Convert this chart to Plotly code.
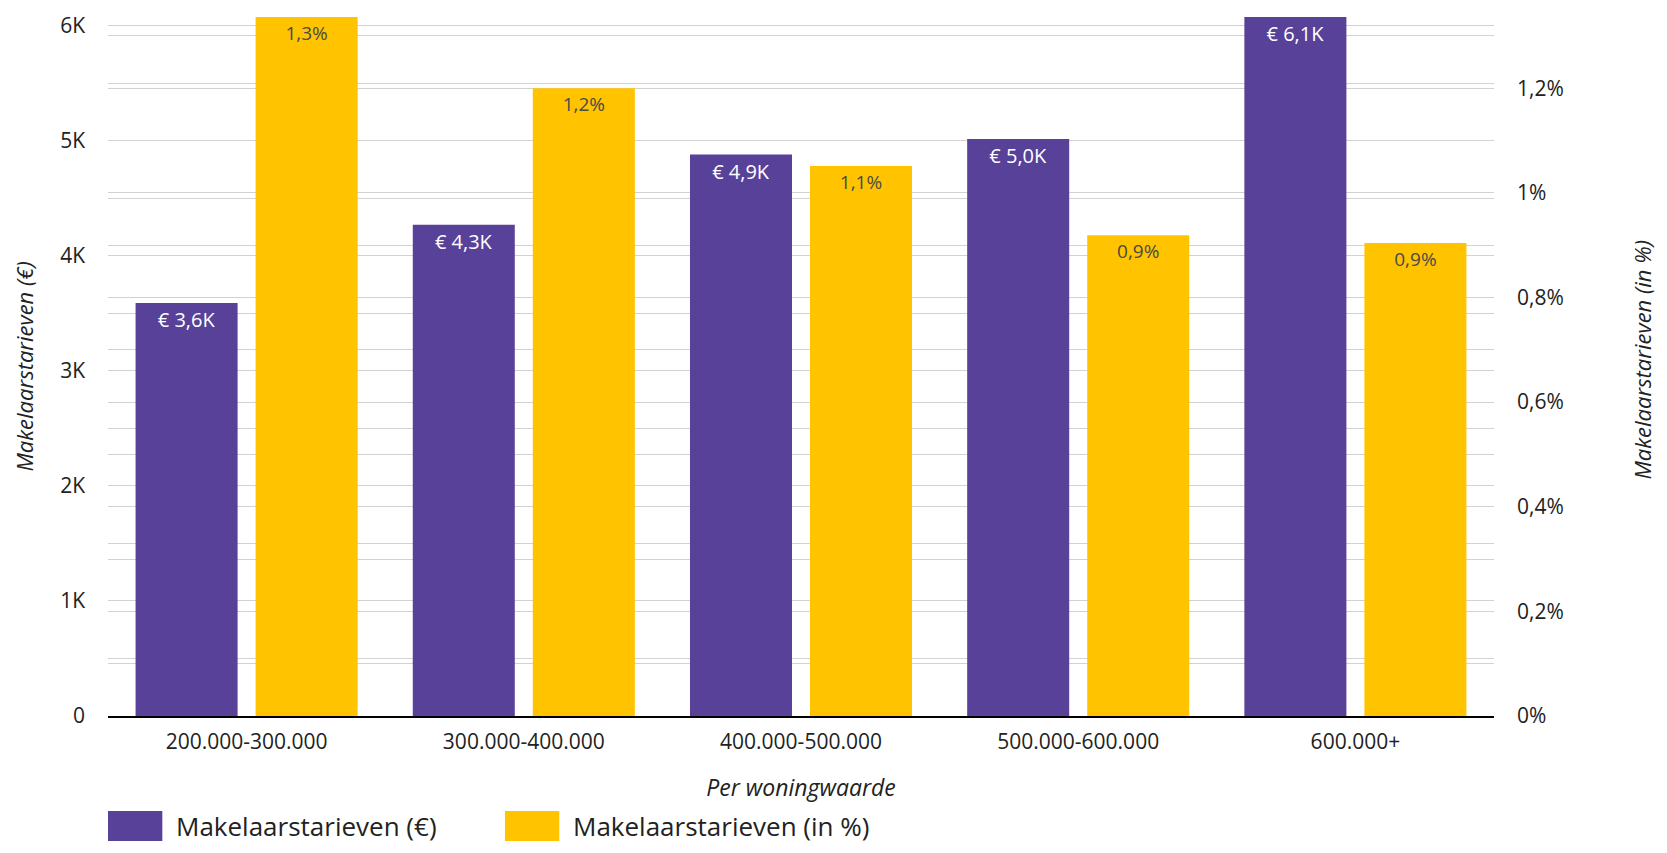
import plotly.graph_objects as go

categories = ["200.000-300.000", "300.000-400.000", "400.000-500.000", "500.000-600.000", "600.000+"]
tarief_euro = [3590, 4270, 4880, 5015, 6080]
tarief_pct = [1.336, 1.200, 1.051, 0.919, 0.904]

left_tickvals = [0, 500, 1000, 1500, 2000, 2500, 3000, 3500, 4000, 4500, 5000, 5500, 6000]
left_ticktext = ["0", "", "1K", "", "2K", "", "3K", "", "4K", "", "5K", "", "6K"]
right_tickvals = [0, 0.1, 0.2, 0.3, 0.4, 0.5, 0.6, 0.7, 0.8, 0.9, 1.0, 1.1, 1.2, 1.3]
right_ticktext = ["0%", "", "0,2%", "", "0,4%", "", "0,6%", "", "0,8%", "", "1%", "", "1,2%", ""]

PURPLE = "#584199"
YELLOW = "#FFC300"
FONT = "Open Sans"
TXT = "#222222"

euro_text = ["€ " + f"{v/1000:.1f}".replace(".", ",") + "K" for v in tarief_euro]
pct_text = [f"{v:.1f}".replace(".", ",") + "%" for v in tarief_pct]

fig = go.Figure()
fig.add_trace(go.Bar(
    x=categories, y=tarief_euro, name="Makelaarstarieven (€)",
    marker=dict(color=PURPLE, line=dict(width=0)),
    text=euro_text, textposition="inside", insidetextanchor="end", textangle=0,
    textfont=dict(color="white", size=20, family=FONT),
    offsetgroup="1", yaxis="y", showlegend=False,
))
fig.add_trace(go.Bar(
    x=categories, y=tarief_pct, name="Makelaarstarieven (in %)",
    marker=dict(color=YELLOW, line=dict(width=0)),
    text=pct_text, textposition="inside", insidetextanchor="end", textangle=0,
    textfont=dict(color="#4a4a4a", size=19, family=FONT),
    offsetgroup="2", yaxis="y2", showlegend=False,
))

grid = "#d2d2d2"
fig.update_layout(
    width=1651, height=837,
    margin=dict(l=100, r=165, t=9, b=129, autoexpand=False),
    paper_bgcolor="white", plot_bgcolor="white",
    font=dict(family=FONT, color=TXT, size=21),
    barmode="group", bargap=0.134, bargroupgap=0.15,
    showlegend=False,
    xaxis=dict(
        showline=True, linecolor="black", linewidth=2, showgrid=False,
        tickfont=dict(size=21, color=TXT), ticklabelstandoff=6,
        title=dict(text="<i>Per woningwaarde</i>", font=dict(size=23, color=TXT), standoff=26),
        automargin=False, zeroline=False,
    ),
    yaxis=dict(
        range=[0, 6076], tickmode="array", tickvals=left_tickvals, ticktext=left_ticktext,
        showgrid=True, gridcolor=grid, gridwidth=1, zeroline=False,
        tickfont=dict(size=21, color=TXT), ticklabelstandoff=22, automargin=False,
    ),
    yaxis2=dict(
        range=[0, 1.336], overlaying="y", side="right", tickmode="array",
        tickvals=right_tickvals, ticktext=right_ticktext,
        showgrid=True, gridcolor=grid, gridwidth=1, zeroline=False,
        tickfont=dict(size=21, color=TXT), ticklabelstandoff=22, automargin=False,
    ),
)

# Axis titles
fig.add_annotation(text="<i>Makelaarstarieven (€)</i>", xref="paper", yref="paper",
                   x=-0.0613, y=0.5, textangle=-90, showarrow=False,
                   xanchor="center", yanchor="middle", font=dict(size=22, color=TXT))
fig.add_annotation(text="<i>Makelaarstarieven (in %)</i>", xref="paper", yref="paper",
                   x=1.1061, y=0.51, textangle=-90, showarrow=False,
                   xanchor="center", yanchor="middle", font=dict(size=22, color=TXT))

# Custom legend (large swatches)
legend_items = [("Makelaarstarieven (€)", PURPLE, 0.0), ("Makelaarstarieven (in %)", YELLOW, 0.2864)]
for label, color, x0 in legend_items:
    fig.add_shape(type="rect", xref="paper", yref="paper",
                  x0=x0, x1=x0 + 0.0392, y0=-0.1788, y1=-0.1359,
                  fillcolor=color, line=dict(width=0), layer="above")
    fig.add_annotation(text=label, xref="paper", yref="paper", x=x0 + 0.0475, y=-0.1574,
                       xanchor="left", yanchor="middle", showarrow=False,
                       font=dict(size=26, color=TXT))

fig.write_html("out.html")
